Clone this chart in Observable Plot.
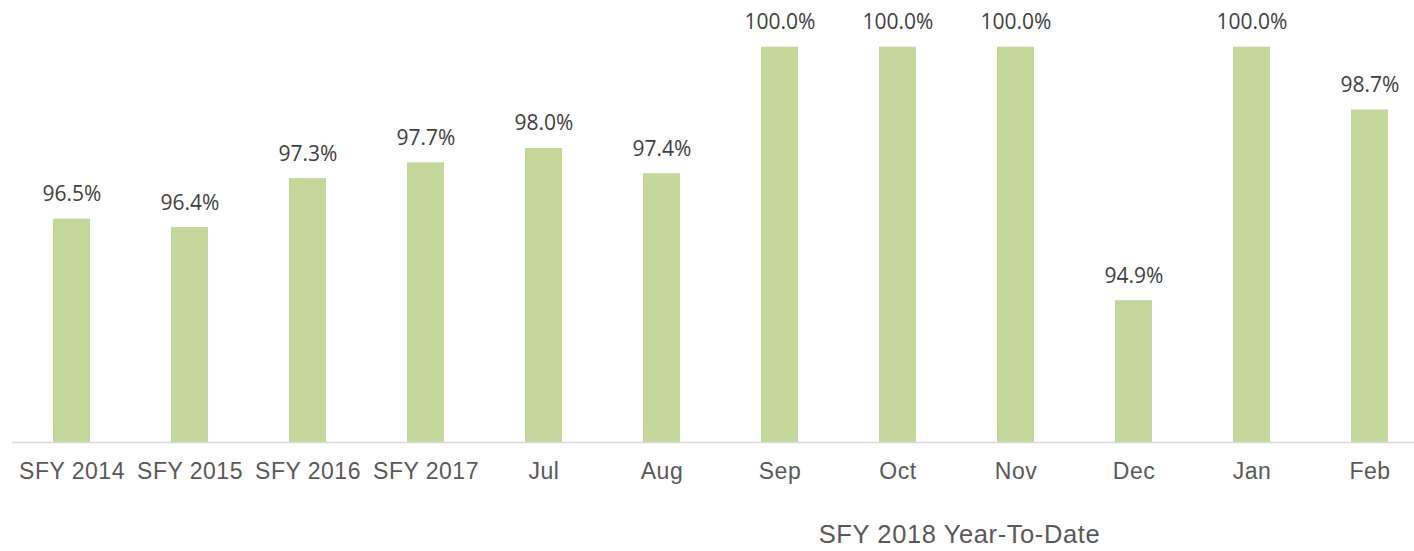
<!DOCTYPE html>
<html>
<head>
<meta charset="utf-8">
<script src="https://cdn.jsdelivr.net/npm/d3@7"></script>
<script src="https://cdn.jsdelivr.net/npm/@observablehq/plot@0.6"></script>
<style>
  html, body { margin: 0; padding: 0; background: #fff; overflow: hidden; }
  #wrap { position: relative; width: 1414px; height: 551px; }
  #title { position: absolute; font-family: "Liberation Sans", Arial, sans-serif; font-size: 25.5px; line-height: 25.5px; letter-spacing: 0.6px; color: #595959; white-space: nowrap; transform: translateX(-50%); }
</style>
</head>
<body>
<div id="wrap"></div>
<script>
const categories = ["SFY 2014", "SFY 2015", "SFY 2016", "SFY 2017", "Jul", "Aug", "Sep", "Oct", "Nov", "Dec", "Jan", "Feb"];
const values = [96.52, 96.35, 97.34, 97.66, 97.95, 97.44, 100.0, 100.0, 100.0, 94.87, 100.0, 98.73];
const labels = ["96.5%", "96.4%", "97.3%", "97.7%", "98.0%", "97.4%", "100.0%", "100.0%", "100.0%", "94.9%", "100.0%", "98.7%"];
const yDomain = [92, 100];
const groupTitle = "SFY 2018 Year-To-Date";
const groupStart = "Jul", groupEnd = "Feb";

const data = categories.map((c, i) => ({cat: c, value: values[i], label: labels[i]}));
const baseline = yDomain[0];

const chart = Plot.plot({
  width: 1414,
  height: 500,
  marginLeft: 12,
  marginRight: 0,
  marginTop: 46.7,
  marginBottom: 58,
  style: {fontFamily: "'Liberation Sans', Arial, sans-serif", background: "#fff"},
  x: {domain: categories, range: [11.6, 1429.5], paddingInner: 0.687, paddingOuter: 0.3435},
  y: {domain: yDomain, axis: null},
  marks: [
    Plot.barY(data, {x: "cat", y1: baseline, y2: "value", fill: "#c4d79b"}),
    Plot.ruleY([baseline], {stroke: "#d9d9d9", strokeWidth: 1.5}),
    Plot.text(data, {x: "cat", y: "value", text: "label", lineAnchor: "bottom", dy: -18, fontSize: 21, fontFamily: "'Open Sans', sans-serif", fill: "#404040"}),
    Plot.axisX({tickSize: 0, tickPadding: 20, fontSize: 23, color: "#595959", label: null})
  ]
});
d3.select(chart).selectAll('g[aria-label="x-axis tick label"] text').style("letter-spacing", "0.5px");
const wrap = document.getElementById("wrap");
wrap.appendChild(chart);

const xs = chart.scale("x");
const cx = (xs.apply(groupStart) + xs.apply(groupEnd)) / 2 + xs.bandwidth / 2;
const t = document.createElement("div");
t.id = "title";
t.textContent = groupTitle;
t.style.left = (cx + 3) + "px";
t.style.top = "522.4px";
wrap.appendChild(t);
</script>
</body>
</html>
